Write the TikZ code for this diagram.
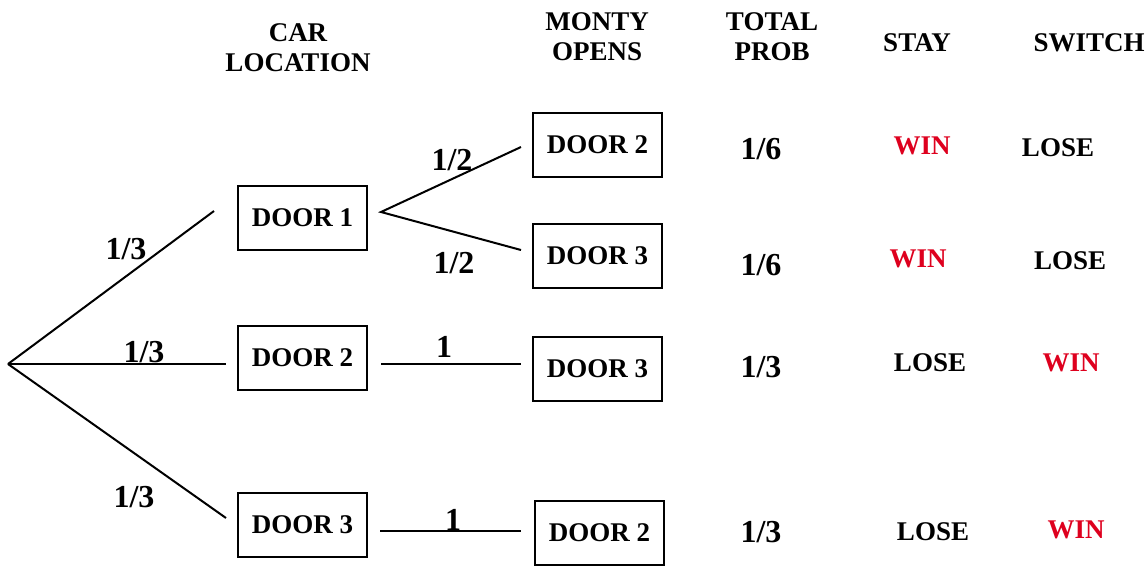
\documentclass[tikz,border=0pt]{standalone}
\usepackage{fontspec}
\setmainfont{Liberation Serif}
\definecolor{winred}{RGB}{222,0,30}
\begin{document}
\begin{tikzpicture}[x=1pt,y=-1pt,
  txt/.style={font=\fontsize{27}{30}\selectfont\bfseries, inner sep=0pt, align=center},
  num/.style={font=\fontsize{32}{34}\selectfont\bfseries, inner sep=0pt},
  doorbox/.style={draw, line width=2pt, minimum width=129pt, minimum height=64pt, inner sep=0pt, font=\fontsize{27}{30}\selectfont\bfseries},
  win/.style={txt, text=winred},
  branch/.style={line width=2pt}]
\useasboundingbox (0,0) rectangle (1147,566);
% headers
\node[txt] (hcar) at (298,48) {CAR\\LOCATION};
\node[txt] (hmonty) at (597,36.5) {MONTY\\OPENS};
\node[txt] (htotal) at (772,36.5) {TOTAL\\PROB};
\node[txt] (hstay) at (917,43) {STAY};
\node[txt] (hswitch) at (1089,43) {SWITCH};
% car location boxes
\node[doorbox] (car1) at (302.5,217.5) {DOOR 1};
\node[doorbox] (car2) at (302.5,358) {DOOR 2};
\node[doorbox] (car3) at (302.5,525) {DOOR 3};
% monty boxes
\node[doorbox] (m1) at (597.5,145) {DOOR 2};
\node[doorbox] (m2) at (597.5,256) {DOOR 3};
\node[doorbox] (m3) at (597.5,369) {DOOR 3};
\node[doorbox] (m4) at (599.5,533) {DOOR 2};
% branch coordinates
\coordinate (root) at (8,364);
\coordinate (e1) at (214,211);
\coordinate (e2) at (226,364);
\coordinate (e3) at (226,518);
\coordinate (f1) at (381,212);
\coordinate (g1) at (521,147);
\coordinate (g2) at (521,250);
\coordinate (f2) at (381,364);
\coordinate (g3) at (521,364);
\coordinate (f3) at (380,531);
\coordinate (g4) at (521,531);
% branches
\draw[branch] (root) -- (e1);
\draw[branch] (root) -- (e2);
\draw[branch] (root) -- (e3);
\draw[branch] (g1) -- (f1) -- (g2);
\draw[branch] (f2) -- (g3);
\draw[branch] (f3) -- (g4);
% branch labels
\node[num] (p1) at (126,249) {1/3};
\node[num] (p2) at (144,352) {1/3};
\node[num] (p3) at (134,497) {1/3};
\node[num] (q1) at (452,160) {1/2};
\node[num] (q2) at (454,263) {1/2};
\node[num] (q3) at (444,347) {1};
\node[num] (q4) at (453,520) {1};
% total probability
\node[num] (t1) at (761,149) {1/6};
\node[num] (t2) at (761,265) {1/6};
\node[num] (t3) at (761,367) {1/3};
\node[num] (t4) at (761,532) {1/3};
% stay
\node[win] (s1) at (922,146) {WIN};
\node[win] (s2) at (918,259) {WIN};
\node[txt] (s3) at (930,363) {LOSE};
\node[txt] (s4) at (933,532) {LOSE};
% switch
\node[txt] (w1) at (1058,148) {LOSE};
\node[txt] (w2) at (1070,261) {LOSE};
\node[win] (w3) at (1071,363) {WIN};
\node[win] (w4) at (1076,530) {WIN};
\end{tikzpicture}
\end{document}
